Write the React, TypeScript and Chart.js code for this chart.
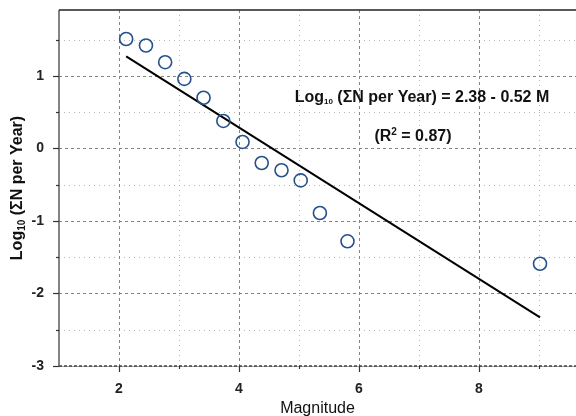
import React, { useEffect, useRef } from "react";
import { Chart, registerables } from "chart.js";

Chart.register(...registerables);

// Data
const magnitude = [2.12, 2.45, 2.77, 3.09, 3.41, 3.74, 4.06, 4.38, 4.71, 5.03, 5.35, 5.81, 9.02];
const logRate = [1.51, 1.42, 1.19, 0.96, 0.7, 0.38, 0.09, -0.2, -0.3, -0.44, -0.89, -1.28, -1.59];
const fitMagnitude = [2.12, 9.02];
const fitLogRate = [1.27, -2.33];
const xLabeledTicks = [2, 4, 6, 8];
const xMajorGrid = [2, 4, 6, 8];
const xMinorGrid = [3, 5, 7, 9];
const yMajorGrid = [-2, -1, 0, 1];
const yMinorGrid = [-2.5, -1.5, -0.5, 0.5, 1.5];
const yLabeledTicks = [-3, -2, -1, 0, 1];

const FONT = "'Liberation Sans', Arial, sans-serif";

type Part = { text: string; font: string; dy: number };

function drawRich(ctx: CanvasRenderingContext2D, parts: Part[], x: number, y: number) {
  let total = 0;
  const widths = parts.map((p) => {
    ctx.font = p.font;
    const w = ctx.measureText(p.text).width;
    total += w;
    return w;
  });
  let cx = x - total / 2;
  ctx.textAlign = "left";
  ctx.textBaseline = "alphabetic";
  parts.forEach((p, i) => {
    ctx.font = p.font;
    ctx.fillText(p.text, cx, y + p.dy);
    cx += widths[i];
  });
}

const decorPlugin = {
  id: "decor",
  beforeDatasetsDraw(chart: any) {
    const { ctx, chartArea } = chart;
    const xs = chart.scales.x;
    const ys = chart.scales.y;
    const { left, right, top, bottom } = chartArea;
    ctx.save();
    // minor grid (dotted)
    ctx.lineWidth = 1;
    ctx.strokeStyle = "#b4b4b4";
    ctx.setLineDash([1, 4]);
    xMinorGrid.forEach((v) => {
      const px = Math.round(xs.getPixelForValue(v)) + 0.5;
      ctx.beginPath();
      ctx.moveTo(px, top);
      ctx.lineTo(px, bottom);
      ctx.stroke();
    });
    yMinorGrid.forEach((v) => {
      const py = Math.round(ys.getPixelForValue(v)) + 0.5;
      ctx.beginPath();
      ctx.moveTo(left, py);
      ctx.lineTo(right, py);
      ctx.stroke();
    });
    // major grid (dashed)
    ctx.strokeStyle = "#858585";
    ctx.setLineDash([3, 3]);
    xMajorGrid.forEach((v) => {
      const px = Math.round(xs.getPixelForValue(v)) + 0.5;
      ctx.beginPath();
      ctx.moveTo(px, top);
      ctx.lineTo(px, bottom);
      ctx.stroke();
    });
    yMajorGrid.forEach((v) => {
      const py = Math.round(ys.getPixelForValue(v)) + 0.5;
      ctx.beginPath();
      ctx.moveTo(left, py);
      ctx.lineTo(right, py);
      ctx.stroke();
    });
    ctx.setLineDash([]);
    // axes
    ctx.strokeStyle = "#5a5a5a";
    ctx.lineWidth = 1.5;
    ctx.beginPath();
    ctx.moveTo(left, top);
    ctx.lineTo(left, bottom);
    ctx.stroke();
    ctx.strokeStyle = "#222";
    ctx.beginPath();
    ctx.moveTo(left, top);
    ctx.lineTo(right, top);
    ctx.stroke();
    ctx.strokeStyle = "#a0a0a0";
    ctx.lineWidth = 1;
    ctx.beginPath();
    ctx.moveTo(left, bottom + 0.5);
    ctx.lineTo(right, bottom + 0.5);
    ctx.stroke();
    ctx.strokeStyle = "#444";
    ctx.lineWidth = 1.5;
    ctx.setLineDash([3, 2]);
    ctx.beginPath();
    ctx.moveTo(left, bottom);
    ctx.lineTo(right, bottom);
    ctx.stroke();
    ctx.setLineDash([]);
    // tick marks
    ctx.strokeStyle = "#333";
    ctx.lineWidth = 1.2;
    yLabeledTicks.forEach((v) => {
      const py = Math.round(ys.getPixelForValue(v)) + 0.5;
      ctx.beginPath();
      ctx.moveTo(left - 6, py);
      ctx.lineTo(left, py);
      ctx.stroke();
    });
    yMinorGrid.forEach((v) => {
      const py = Math.round(ys.getPixelForValue(v)) + 0.5;
      ctx.beginPath();
      ctx.moveTo(left - 3, py);
      ctx.lineTo(left, py);
      ctx.stroke();
    });
    xMajorGrid.forEach((v) => {
      const px = Math.round(xs.getPixelForValue(v)) + 0.5;
      ctx.beginPath();
      ctx.moveTo(px, bottom);
      ctx.lineTo(px, bottom + 6);
      ctx.stroke();
    });
    xMinorGrid.forEach((v) => {
      const px = Math.round(xs.getPixelForValue(v)) + 0.5;
      ctx.beginPath();
      ctx.moveTo(px, bottom);
      ctx.lineTo(px, bottom + 3);
      ctx.stroke();
    });
    ctx.restore();
  },
  afterDraw(chart: any) {
    const { ctx, chartArea } = chart;
    ctx.save();
    ctx.fillStyle = "#111";
    const bold16 = `bold 16px ${FONT}`;
    const subFont = `bold 8px ${FONT}`;
    // equation annotation
    drawRich(
      ctx,
      [
        { text: "Log", font: bold16, dy: 0 },
        { text: "10", font: subFont, dy: 2 },
        { text: " (\u03A3N per Year) = 2.38 - 0.52 M", font: bold16, dy: 0 },
      ],
      422,
      102
    );
    drawRich(
      ctx,
      [
        { text: "(R", font: bold16, dy: 0 },
        { text: "2", font: `bold 10px ${FONT}`, dy: -6 },
        { text: " = 0.87)", font: bold16, dy: 0 },
      ],
      413,
      141
    );
    // y axis title
    ctx.save();
    ctx.translate(22, (chartArea.top + chartArea.bottom) / 2);
    ctx.rotate(-Math.PI / 2);
    drawRich(
      ctx,
      [
        { text: "Log", font: bold16, dy: 0 },
        { text: "10", font: `bold 10px ${FONT}`, dy: 3 },
        { text: " (\u03A3N per Year)", font: bold16, dy: 0 },
      ],
      0,
      0
    );
    ctx.restore();
    // x axis title
    ctx.font = `16px ${FONT}`;
    ctx.textAlign = "center";
    ctx.textBaseline = "alphabetic";
    ctx.fillText("Magnitude", (chartArea.left + chartArea.right) / 2, 413);
    ctx.restore();
  },
};

function zeroPad(s: any) {
  s.paddingLeft = 0;
  s.paddingRight = 0;
  s.paddingTop = 0;
  s.paddingBottom = 0;
}

export default function App() {
  const ref = useRef<HTMLCanvasElement | null>(null);
  useEffect(() => {
    if (!ref.current) return;
    const chart = new Chart(ref.current, {
      type: "scatter",
      data: {
        datasets: [
          {
            label: "fit",
            data: fitMagnitude.map((x, i) => ({ x, y: fitLogRate[i] })),
            showLine: true,
            borderColor: "#000",
            borderWidth: 2,
            pointRadius: 0,
            order: 2,
          },
          {
            label: "observed",
            data: magnitude.map((x, i) => ({ x, y: logRate[i] })),
            showLine: false,
            pointRadius: 6.5,
            pointBorderWidth: 1.6,
            pointBorderColor: "#24508c",
            pointBackgroundColor: "rgba(255,255,255,0)",
            order: 1,
          },
        ],
      },
      options: {
        animation: false,
        responsive: false,
        devicePixelRatio: 1,
        layout: { autoPadding: false, padding: { top: 10, right: 0, left: 0, bottom: 0 } },
        plugins: { legend: { display: false }, tooltip: { enabled: false } },
        scales: {
          x: {
            type: "linear",
            min: 1,
            max: 9.62,
            grid: { display: false },
            border: { display: false },
            ticks: {
              stepSize: 1,
              autoSkip: false,
              maxRotation: 0,
              padding: 7,
              color: "#222",
              font: { family: FONT, size: 14, weight: "bold" },
              callback: (v: any) => (xLabeledTicks.includes(Number(v)) ? String(v) : ""),
            },
            afterFit: (s: any) => {
              s.height = 50;
              zeroPad(s);
            },
          },
          y: {
            type: "linear",
            min: -3,
            max: 1.91,
            grid: { display: false },
            border: { display: false },
            ticks: {
              stepSize: 1,
              autoSkip: false,
              padding: 7,
              color: "#222",
              font: { family: FONT, size: 14, weight: "bold" },
              callback: (v: any) => (yLabeledTicks.includes(Number(v)) ? String(v) : ""),
            },
            afterFit: (s: any) => {
              s.width = 59;
              zeroPad(s);
            },
          },
        },
      },
      plugins: [decorPlugin],
    });
    return () => chart.destroy();
  }, []);
  return (
    <div style={{ position: "absolute", left: 0, top: 0, width: 576, height: 416, background: "#fff" }}>
      <canvas ref={ref} width={576} height={416} style={{ display: "block" }} />
    </div>
  );
}
